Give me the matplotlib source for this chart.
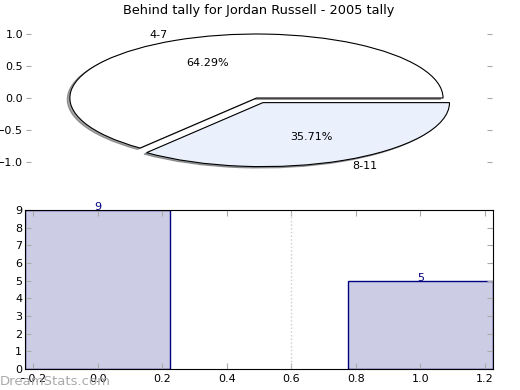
import matplotlib
matplotlib.use("Agg")
import matplotlib.pyplot as plt
import numpy as np

title = "Behind tally for Jordan Russell - 2005 tally"
pie_labels = ["4-7", "8-11"]
pie_values = [9, 5]
pie_colors = ["#ffffff", "#eaf0fc"]
pie_explode = [0, 0.08]

bar_x = [0, 1]
bar_values = [9, 5]

fig = plt.figure(figsize=(5.2, 3.9), dpi=100)

ax1 = fig.add_axes([0.05, 0.5518, 0.896, 0.3938])
wedges, texts, autotexts = ax1.pie(pie_values, labels=pie_labels, colors=pie_colors,
                                   explode=pie_explode, autopct="%.2f%%",
                                   shadow={"ox": -0.01, "oy": -0.016},
                                   startangle=0, labeldistance=1.1, pctdistance=0.6,
                                   wedgeprops=dict(edgecolor="black", linewidth=0.8),
                                   textprops=dict(fontsize=8))
ax1.set_aspect("auto")
ax1.set_frame_on(True)
for s in ax1.spines.values():
    s.set_visible(False)
ax1.set_xlim(-1.235, 1.262)
ax1.set_ylim(-1.2, 1.2)
ax1.set_yticks([-1.0, -0.5, 0.0, 0.5, 1.0])
ax1.set_yticklabels(["\u22121.0", "\u22120.5", "0.0", "0.5", "1.0"])
ax1.set_xticks([])
ax1.tick_params(axis="y", direction="in", left=True, right=True, length=3.5,
                color="#aaaaaa", labelsize=8, pad=2)
ax1.set_title(title, fontsize=9.3, pad=5)

ax2 = fig.add_axes([0.048, 0.054, 0.9, 0.4075])
ax2.bar(bar_x, bar_values, width=0.45, color="navy", alpha=0.2, edgecolor="none")
ax2.bar(bar_x, bar_values, width=0.45, fill=False, edgecolor="navy", linewidth=1)
for x, v in zip(bar_x, bar_values):
    ax2.text(x, v, str(v), ha="center", va="baseline", color="navy", fontsize=8)
ax2.axvline(0.6, color="#cccccc", linestyle=":", linewidth=1)
ax2.set_xlim(-0.225, 1.225)
ax2.set_ylim(0, 9)
ax2.set_xticks(np.arange(-0.2, 1.21, 0.2))
ax2.set_xticklabels(["\u22120.2", "0.0", "0.2", "0.4", "0.6", "0.8", "1.0", "1.2"])
ax2.set_yticks(range(0, 10))
ax2.tick_params(direction="in", top=True, right=True, length=4, color="#aaaaaa",
                labelsize=8)
ax2.tick_params(axis="x", pad=4)
ax2.tick_params(axis="y", pad=2)

fig.text(0.0, 0.004, "DreamStats.com", color="#aaaaaa", fontsize=9.5, ha="left", va="bottom")

fig.savefig("out.png", dpi=100)
